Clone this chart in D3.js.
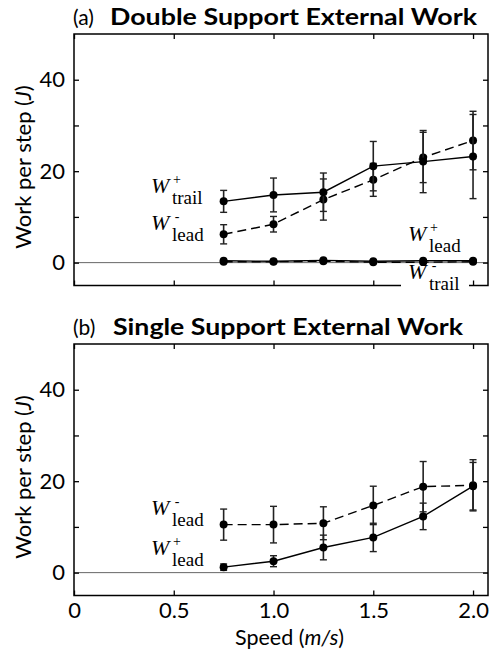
<!DOCTYPE html>
<html>
<head>
<meta charset="utf-8">
<script src="https://cdn.jsdelivr.net/npm/d3@7"></script>
<style>
  body { margin: 0; background: #fff; }
  svg { display: block; }
</style>
</head>
<body>
<div id="vis"></div>
<script>
// speeds (m/s) shared by both panels
const speeds = [0.75, 1.0, 1.25, 1.5, 1.75, 2.0];

// (a) double support
const dsTrailPos    = [13.4, 14.8, 15.4, 21.1, 22.1, 23.2];
const dsTrailPosErr = [2.4, 3.7, 4.2, 5.4, 6.8, 9.2];
const dsLeadNeg     = [6.2, 8.4, 13.8, 18.1, 23.0, 26.7];
const dsLeadNegErr  = [2.1, 1.7, 4.5, 3.6, 5.5, 6.4];
const dsLeadPos     = [0.4, 0.3, 0.5, 0.3, 0.4, 0.4];
const dsTrailNeg    = [0.2, 0.2, 0.3, 0.1, 0.1, 0.2];

// (b) single support
const ssLeadNeg     = [10.5, 10.5, 10.8, 14.7, 18.8, 19.1];
const ssLeadNegErr  = [3.4, 4.0, 3.6, 4.2, 5.5, 5.6];
const ssLeadPos     = [1.2, 2.5, 5.5, 7.7, 12.3, 18.9];
const ssLeadPosErr  = [0.7, 1.2, 2.7, 3.1, 2.9, 5.2];

const xTicks = [0, 0.5, 1.0, 1.5, 2.0];
const xTickLabels = ["0", "0.5", "1.0", "1.5", "2.0"];
const yTicks = [0, 10, 20, 30, 40];
const yTickLabels = ["0", "", "20", "", "40"];

const W = 489, H = 655;
const sans = "Lato, 'Open Sans', sans-serif";
const serif = "'Liberation Serif', 'DejaVu Serif', serif";

const svg = d3.select("#vis").append("svg")
  .attr("width", W).attr("height", H);

const x = d3.scaleLinear().domain([0, 2.075]).range([74, 488]);

function panel(top, title, titleLen, letter, series, showXLabels) {
  const y = d3.scaleLinear().domain([-5, 50]).range([top + 251.5, top]);
  const g = svg.append("g");

  // zero line
  g.append("line")
    .attr("x1", x.range()[0]).attr("x2", x.range()[1])
    .attr("y1", y(0)).attr("y2", y(0))
    .attr("stroke", "#666").attr("stroke-width", 1);

  // axes, ticks inward
  const fmtX = (d, i) => showXLabels ? xTickLabels[i] : "";
  const fmtY = (d, i) => yTickLabels[i];
  const axes = [
    g.append("g").attr("transform", `translate(0,${y.range()[0]})`)
      .call(d3.axisBottom(x).tickValues(xTicks).tickSizeInner(-5).tickSizeOuter(0).tickPadding(7).tickFormat(fmtX)),
    g.append("g").attr("transform", `translate(0,${y.range()[1]})`)
      .call(d3.axisTop(x).tickValues(xTicks).tickSizeInner(-5).tickSizeOuter(0).tickFormat("")),
    g.append("g").attr("transform", `translate(${x.range()[0]},0)`)
      .call(d3.axisLeft(y).tickValues(yTicks).tickSizeInner(-5).tickSizeOuter(0).tickPadding(9).tickFormat(fmtY)),
    g.append("g").attr("transform", `translate(${x.range()[1]},0)`)
      .call(d3.axisRight(y).tickValues(yTicks).tickSizeInner(-5).tickSizeOuter(0).tickFormat(""))
  ];
  axes.forEach(a => {
    a.select(".domain").remove();
    a.selectAll(".tick line").attr("stroke", "#000").attr("stroke-width", 1.3);
    a.selectAll("text").attr("font-family", sans).attr("font-size", 22).attr("fill", "#000");
  });

  // frame
  g.append("rect")
    .attr("x", x.range()[0]).attr("y", y.range()[1])
    .attr("width", x.range()[1] - x.range()[0])
    .attr("height", y.range()[0] - y.range()[1])
    .attr("fill", "none").attr("stroke", "#000").attr("stroke-width", 1.5);

  // title
  g.append("text")
    .attr("x", 73).attr("y", top - 9)
    .attr("font-family", sans).attr("font-size", 21).attr("fill", "#000")
    .text(`(${letter})`);
  g.append("text")
    .attr("x", letter === "a" ? 110 : 113).attr("y", top - 9)
    .attr("font-family", sans).attr("font-size", 23.5).attr("font-weight", "bold").attr("fill", "#000")
    .attr("textLength", titleLen).attr("lengthAdjust", "spacingAndGlyphs")
    .text(title);

  // y label
  g.append("text")
    .attr("transform", `translate(31,${y(20.9)}) rotate(-90)`)
    .attr("text-anchor", "middle")
    .attr("font-family", sans).attr("font-size", 22).attr("fill", "#000")
    .call(s => {
      s.append("tspan").text("Work per step ");
      s.append("tspan").text("(");
      s.append("tspan").attr("font-style", "italic").text("J");
      s.append("tspan").text(")");
    });

  const line = d3.line().x((d, i) => x(speeds[i])).y(d => y(d));

  series.forEach(s => {
    const sg = g.append("g");
    if (s.err) {
      s.values.forEach((v, i) => {
        const cx = x(speeds[i]);
        const lo = y(v - s.err[i]), hi = y(v + s.err[i]);
        sg.append("line").attr("x1", cx).attr("x2", cx).attr("y1", lo).attr("y2", hi)
          .attr("stroke", "#222").attr("stroke-width", 1.6);
        [lo, hi].forEach(yy => sg.append("line")
          .attr("x1", cx - 3.5).attr("x2", cx + 3.5).attr("y1", yy).attr("y2", yy)
          .attr("stroke", "#222").attr("stroke-width", 1.4));
      });
    }
    sg.append("path").datum(s.values)
      .attr("d", line).attr("fill", "none")
      .attr("stroke", "#000").attr("stroke-width", 1.4)
      .attr("stroke-dasharray", s.dashed ? "9,5" : null);
    sg.selectAll("circle").data(s.values).join("circle")
      .attr("cx", (d, i) => x(speeds[i])).attr("cy", d => y(d))
      .attr("r", 4).attr("fill", "#000");
  });
  return g;
}

function wLabel(g, px, py, sup, sub, bg) {
  const lg = g.append("g");
  if (bg) {
    lg.append("rect").attr("x", px - 8).attr("y", py - 13).attr("width", 68).attr("height", 30).attr("fill", "#fff");
  }
  lg.append("text").attr("x", px - 1).attr("y", py)
    .attr("font-family", serif).attr("font-style", "italic").attr("font-size", 22).attr("fill", "#000")
    .text("W");
  lg.append("text").attr("x", px + 25).attr("y", py - 9)
    .attr("font-family", serif).attr("font-size", 14).attr("fill", "#000")
    .attr("text-anchor", "middle").text(sup);
  lg.append("text").attr("x", px + 20).attr("y", py + 11)
    .attr("font-family", serif).attr("font-size", 19).attr("fill", "#000")
    .text(sub);
}

const gA = panel(34, "Double Support External Work", 367, "a", [
  { values: dsTrailNeg, dashed: true },
  { values: dsLeadPos, dashed: false },
  { values: dsLeadNeg, err: dsLeadNegErr, dashed: true },
  { values: dsTrailPos, err: dsTrailPosErr, dashed: false }
], false);
wLabel(gA, 152, 193, "+", "trail");
wLabel(gA, 152, 230, "-", "lead");
wLabel(gA, 409, 241, "+", "lead");
wLabel(gA, 409, 279, "-", "trail", true);

const gB = panel(344, "Single Support External Work", 350, "b", [
  { values: ssLeadNeg, err: ssLeadNegErr, dashed: true },
  { values: ssLeadPos, err: ssLeadPosErr, dashed: false }
], true);
wLabel(gB, 152, 515, "-", "lead");
wLabel(gB, 152, 555, "+", "lead");

// x label, centred under the labelled ticks as in the original
svg.append("text")
  .attr("x", x(1.08)).attr("y", 645)
  .attr("text-anchor", "middle")
  .attr("font-family", sans).attr("font-size", 21.5).attr("fill", "#000")
  .call(s => {
    s.append("tspan").text("Speed (");
    s.append("tspan").attr("font-style", "italic").text("m/s");
    s.append("tspan").text(")");
  });
</script>
</body>
</html>
